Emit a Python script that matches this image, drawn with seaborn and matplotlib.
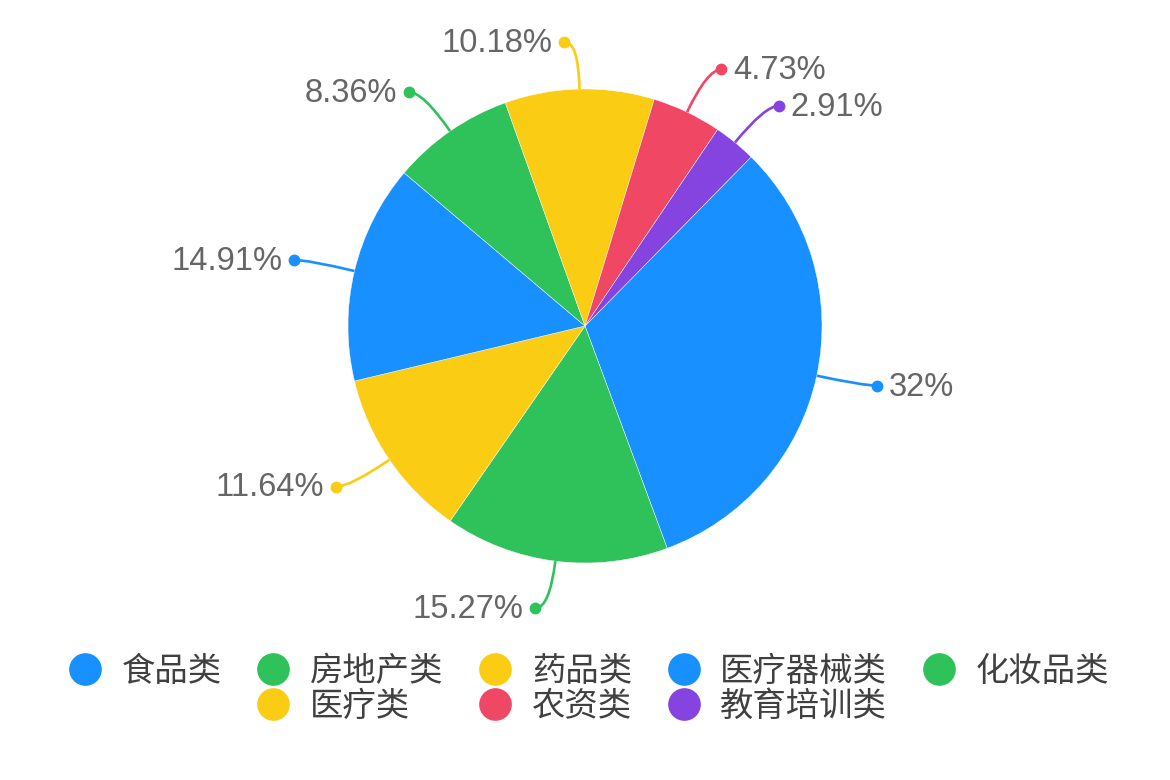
import matplotlib
matplotlib.use("Agg")
import matplotlib.pyplot as plt
from matplotlib.path import Path
from matplotlib.patches import PathPatch
from matplotlib.lines import Line2D
import numpy as np
import seaborn as sns

categories = ["食品类", "房地产类", "药品类", "医疗器械类", "化妆品类", "医疗类", "农资类", "教育培训类"]
shares = [32, 15.27, 11.64, 14.91, 8.36, 10.18, 4.73, 2.91]
pct_labels = ["32%", "15.27%", "11.64%", "14.91%", "8.36%", "10.18%", "4.73%", "2.91%"]
colors = ["#1890FF", "#2FC25B", "#FACC14", "#1890FF", "#2FC25B", "#FACC14", "#F04864", "#8543E0"]

sns.set_theme(style="white")
plt.rcParams["font.family"] = ["Noto Sans CJK SC", "DejaVu Sans"]

fig = plt.figure(figsize=(11.7, 7.8), dpi=100)
ax = fig.add_axes([0, 0, 1, 1])
wedges, _ = ax.pie(shares, colors=colors, startangle=45.5, counterclock=False,
                   wedgeprops=dict(edgecolor="white", linewidth=0.3))

# pixel scale: radius 1 -> 237 px, centre at (585, 326) from top-left
px = 1 / 237
ax.set_xlim(-585 * px, 585 * px)
ax.set_ylim(-454 * px, 326 * px)
ax.set_aspect("equal")
ax.axis("off")

for w, lab, col in zip(wedges, pct_labels, colors):
    mid = np.deg2rad((w.theta1 + w.theta2) / 2)
    c, s = np.cos(mid), np.sin(mid)
    side = 1 if c >= 0 else -1
    p0 = (c, s)
    p1 = (1.2 * c, 1.2 * s)
    p2 = (1.2 * c + side * 14 * px, 1.2 * s)
    path = Path([p0, p1, p2], [Path.MOVETO, Path.CURVE3, Path.CURVE3])
    ax.add_patch(PathPatch(path, fill=False, edgecolor=col, linewidth=1.9))
    ax.plot([p2[0]], [p2[1]], "o", color=col, markersize=7.5)
    ax.annotate(lab, xy=p2, xytext=(side * 8.5, -1), textcoords="offset points",
                ha="left" if side > 0 else "right", va="center",
                fontsize=23.5, color="#666666", family=["Liberation Sans", "DejaVu Sans"])

# legend grid: 5 columns, second row under columns 2-4
def handle(col):
    return Line2D([], [], marker="o", linestyle="", markersize=22.5,
                  markerfacecolor=col, markeredgecolor=col)

blank = Line2D([], [], linestyle="", marker="")
order = [0, None, 1, 5, 2, 6, 3, 7, 4, None]
handles = [blank if i is None else handle(colors[i]) for i in order]
labels = ["" if i is None else categories[i] for i in order]
leg = fig.legend(handles, labels, ncol=5, loc="center", bbox_to_anchor=(0.503, 0.117),
                 frameon=False, fontsize=24, handlelength=1.0, handletextpad=0.6,
                 columnspacing=1.05, labelspacing=0.0, borderpad=0)
for t in leg.get_texts():
    t.set_color("#404040")

fig.savefig("out.png", dpi=100, facecolor="white")
